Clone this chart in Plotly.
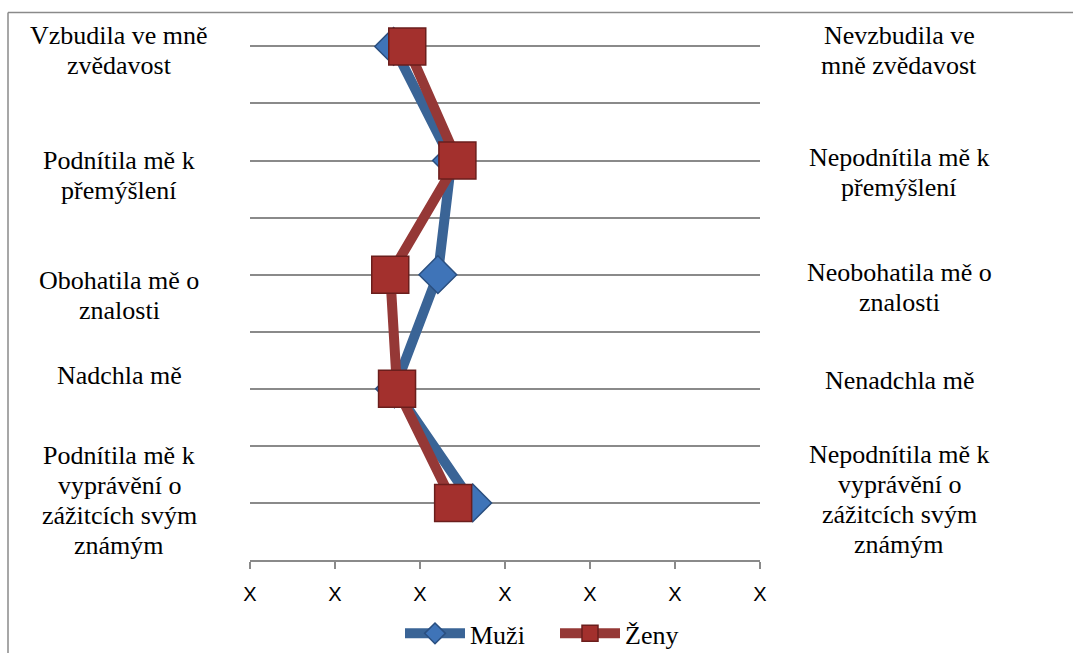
import plotly.graph_objects as go

# Semantic differential: positive pole (left) vs negative pole (right)
left_poles = [
    "Vzbudila ve mně<br>zvědavost",
    "Podnítila mě k<br>přemýšlení",
    "Obohatila mě o<br>znalosti",
    "Nadchla mě",
    "Podnítila mě k<br>vyprávění o<br>zážitcích svým<br>známým",
]
right_poles = [
    "Nevzbudila ve<br>mně zvědavost",
    "Nepodnítila mě k<br>přemýšlení",
    "Neobohatila mě o<br>znalosti",
    "Nenadchla mě",
    "Nepodnítila mě k<br>vyprávění o<br>zážitcích svým<br>známým",
]
scale_points = [1, 2, 3, 4, 5, 6, 7]
scale_labels = ["X"] * 7

muzi = [2.69, 3.37, 3.21, 2.70, 3.62]
zeny = [2.85, 3.44, 2.65, 2.73, 3.39]

# ---- layout geometry (pixels) ----
W, H = 1073, 653
Y_TOP = 9.2                      # a little headroom so the top gridline is drawn
PL, PR, PB = 250, 760, 560
PT = PB - (PB - 46) * Y_TOP / 9  # gridline 9 lands at y=46


def px_x(px):
    return (px - PL) / (PR - PL)


def px_y(py):
    return (PB - py) / (PB - PT)


n = len(left_poles)
rows = [2 * (n - 1 - i) + 1 for i in range(n)]

SERIF = "Times New Roman, Liberation Serif, DejaVu Serif, serif"
GRID = "#8a8a8a"

fig = go.Figure()
fig.add_trace(go.Scatter(
    x=muzi, y=rows, name="Muži", mode="lines+markers", cliponaxis=False,
    line=dict(color="#3A6496", width=10),
    marker=dict(symbol="diamond", size=29, color="#3F74B8",
                line=dict(color="#2A4F80", width=1.5)),
))
fig.add_trace(go.Scatter(
    x=zeny, y=rows, name="Ženy", mode="lines+markers", cliponaxis=False,
    line=dict(color="#953836", width=10),
    marker=dict(symbol="square", size=37, color="#A3302D",
                line=dict(color="#6B1E1C", width=1.5)),
))

# pole labels, one annotation per line
LS = 30
FS = 26
left_base = [43, 168, 288, 383, 463]
right_base = [43, 165, 280, 388, 462]
annotations = []
for texts, bases, cx in ((left_poles, left_base, 119), (right_poles, right_base, 899)):
    for txt, b0 in zip(texts, bases):
        for k, line in enumerate(txt.split("<br>")):
            annotations.append(dict(
                x=px_x(cx), y=px_y(b0 + k * LS - 8), xref="paper", yref="paper",
                text=line, showarrow=False, xanchor="center", yanchor="middle",
                font=dict(family=SERIF, size=FS, color="black"),
            ))

shapes = [
    dict(type="line", xref="paper", yref="paper",
         x0=px_x(8), x1=px_x(8), y0=px_y(12), y1=px_y(H + 10),
         line=dict(color=GRID, width=1.5)),
    dict(type="line", xref="paper", yref="paper",
         x0=px_x(8), x1=px_x(W + 10), y0=px_y(12), y1=px_y(12),
         line=dict(color=GRID, width=1.5)),
]

fig.update_layout(
    width=W, height=H,
    margin=dict(l=PL, r=W - PR, t=PT, b=H - PB, pad=0, autoexpand=False),
    paper_bgcolor="white", plot_bgcolor="white",
    showlegend=True,
    legend=dict(orientation="h", x=px_x(400), y=px_y(610), xanchor="left", yanchor="top",
                font=dict(family=SERIF, size=FS, color="black"),
                itemwidth=60, entrywidth=80, entrywidthmode="pixels",
                tracegroupgap=0, bgcolor="rgba(0,0,0,0)"),
    annotations=annotations,
    shapes=shapes,
    xaxis=dict(range=[1, 7], tickmode="array", tickvals=scale_points, ticktext=scale_labels,
               showgrid=False, zeroline=False, showline=True, linecolor=GRID, linewidth=2,
               ticks="outside", ticklen=7, tickwidth=2, tickcolor=GRID, ticklabelstandoff=8,
               tickfont=dict(family="Liberation Sans", size=20, color="black"),
               fixedrange=True),
    yaxis=dict(range=[0, Y_TOP], dtick=1, tick0=0, showgrid=True, gridcolor=GRID, gridwidth=2,
               zeroline=False, showline=False, showticklabels=False, fixedrange=True),
)

fig.write_html("out.html")
